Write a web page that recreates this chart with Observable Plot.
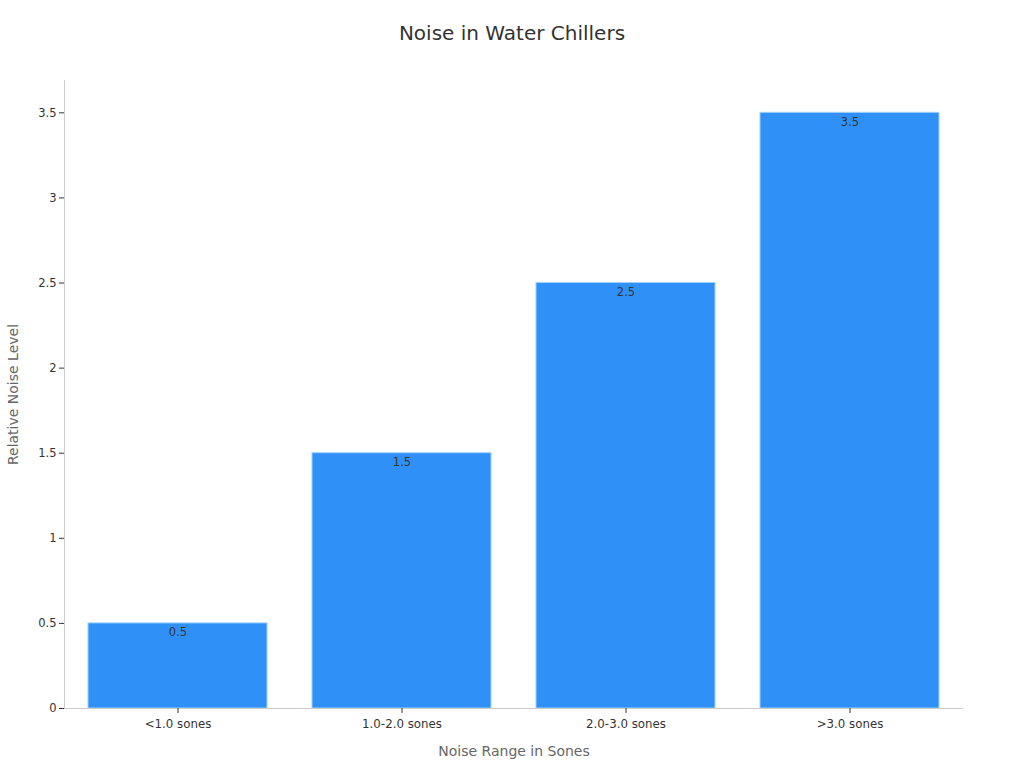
<!DOCTYPE html>
<html>
<head>
<meta charset="utf-8">
<script src="https://cdn.jsdelivr.net/npm/d3@7"></script>
<script src="https://cdn.jsdelivr.net/npm/@observablehq/plot@0.6"></script>
<style>
  body { margin: 0; background: #fff; font-family: "DejaVu Sans", sans-serif; }
  #title { height: 60px; line-height: 66px; text-align: center; font-size: 20px; color: #333; }
</style>
</head>
<body>
<div id="title">Noise in Water Chillers</div>
<div id="chart"></div>
<script>
const categories = ["<1.0 sones", "1.0-2.0 sones", "2.0-3.0 sones", ">3.0 sones"];
const values = [0.5, 1.5, 2.5, 3.5];
const yTicks = [0, 0.5, 1, 1.5, 2, 2.5, 3, 3.5];

const data = categories.map((c, i) => ({category: c, value: values[i]}));

const chart = Plot.plot({
  width: 1024,
  height: 700,
  marginTop: 20,
  marginLeft: 64,
  marginRight: 61,
  marginBottom: 52,
  style: {fontFamily: "DejaVu Sans, sans-serif", fontSize: "11px", color: "#333", background: "#fff"},
  x: {domain: categories, paddingInner: 0.2, paddingOuter: 0.1, label: null},
  y: {domain: [0, 3.69], label: null},
  marks: [
    Plot.barY(data, {x: "category", y: "value", fill: "#2f91f8", stroke: "#9fd0ff", strokeWidth: 1}),
    Plot.text(data, {x: "category", y: "value", text: d => String(d.value), dy: 9, fill: "#333", fontSize: 11.5}),
    Plot.ruleY([0], {stroke: "#ccc"}),
    Plot.frame({anchor: "left", stroke: "#ccc"}),
    Plot.axisY({ticks: yTicks, tickFormat: d => String(d), tickSize: 5, tickPadding: 3, fontSize: 11.5, label: null}),
    Plot.axisX({tickSize: 5, tickPadding: 6, fontSize: 11.8, label: null}),
    Plot.text(["Relative Noise Level"], {frameAnchor: "left", textAnchor: "middle", dx: -51, rotate: -90, fill: "#666", fontSize: 14}),
    Plot.text(["Noise Range in Sones"], {frameAnchor: "bottom", dy: 47, fill: "#666", fontSize: 14})
  ]
});
document.getElementById("chart").appendChild(chart);
</script>
</body>
</html>
